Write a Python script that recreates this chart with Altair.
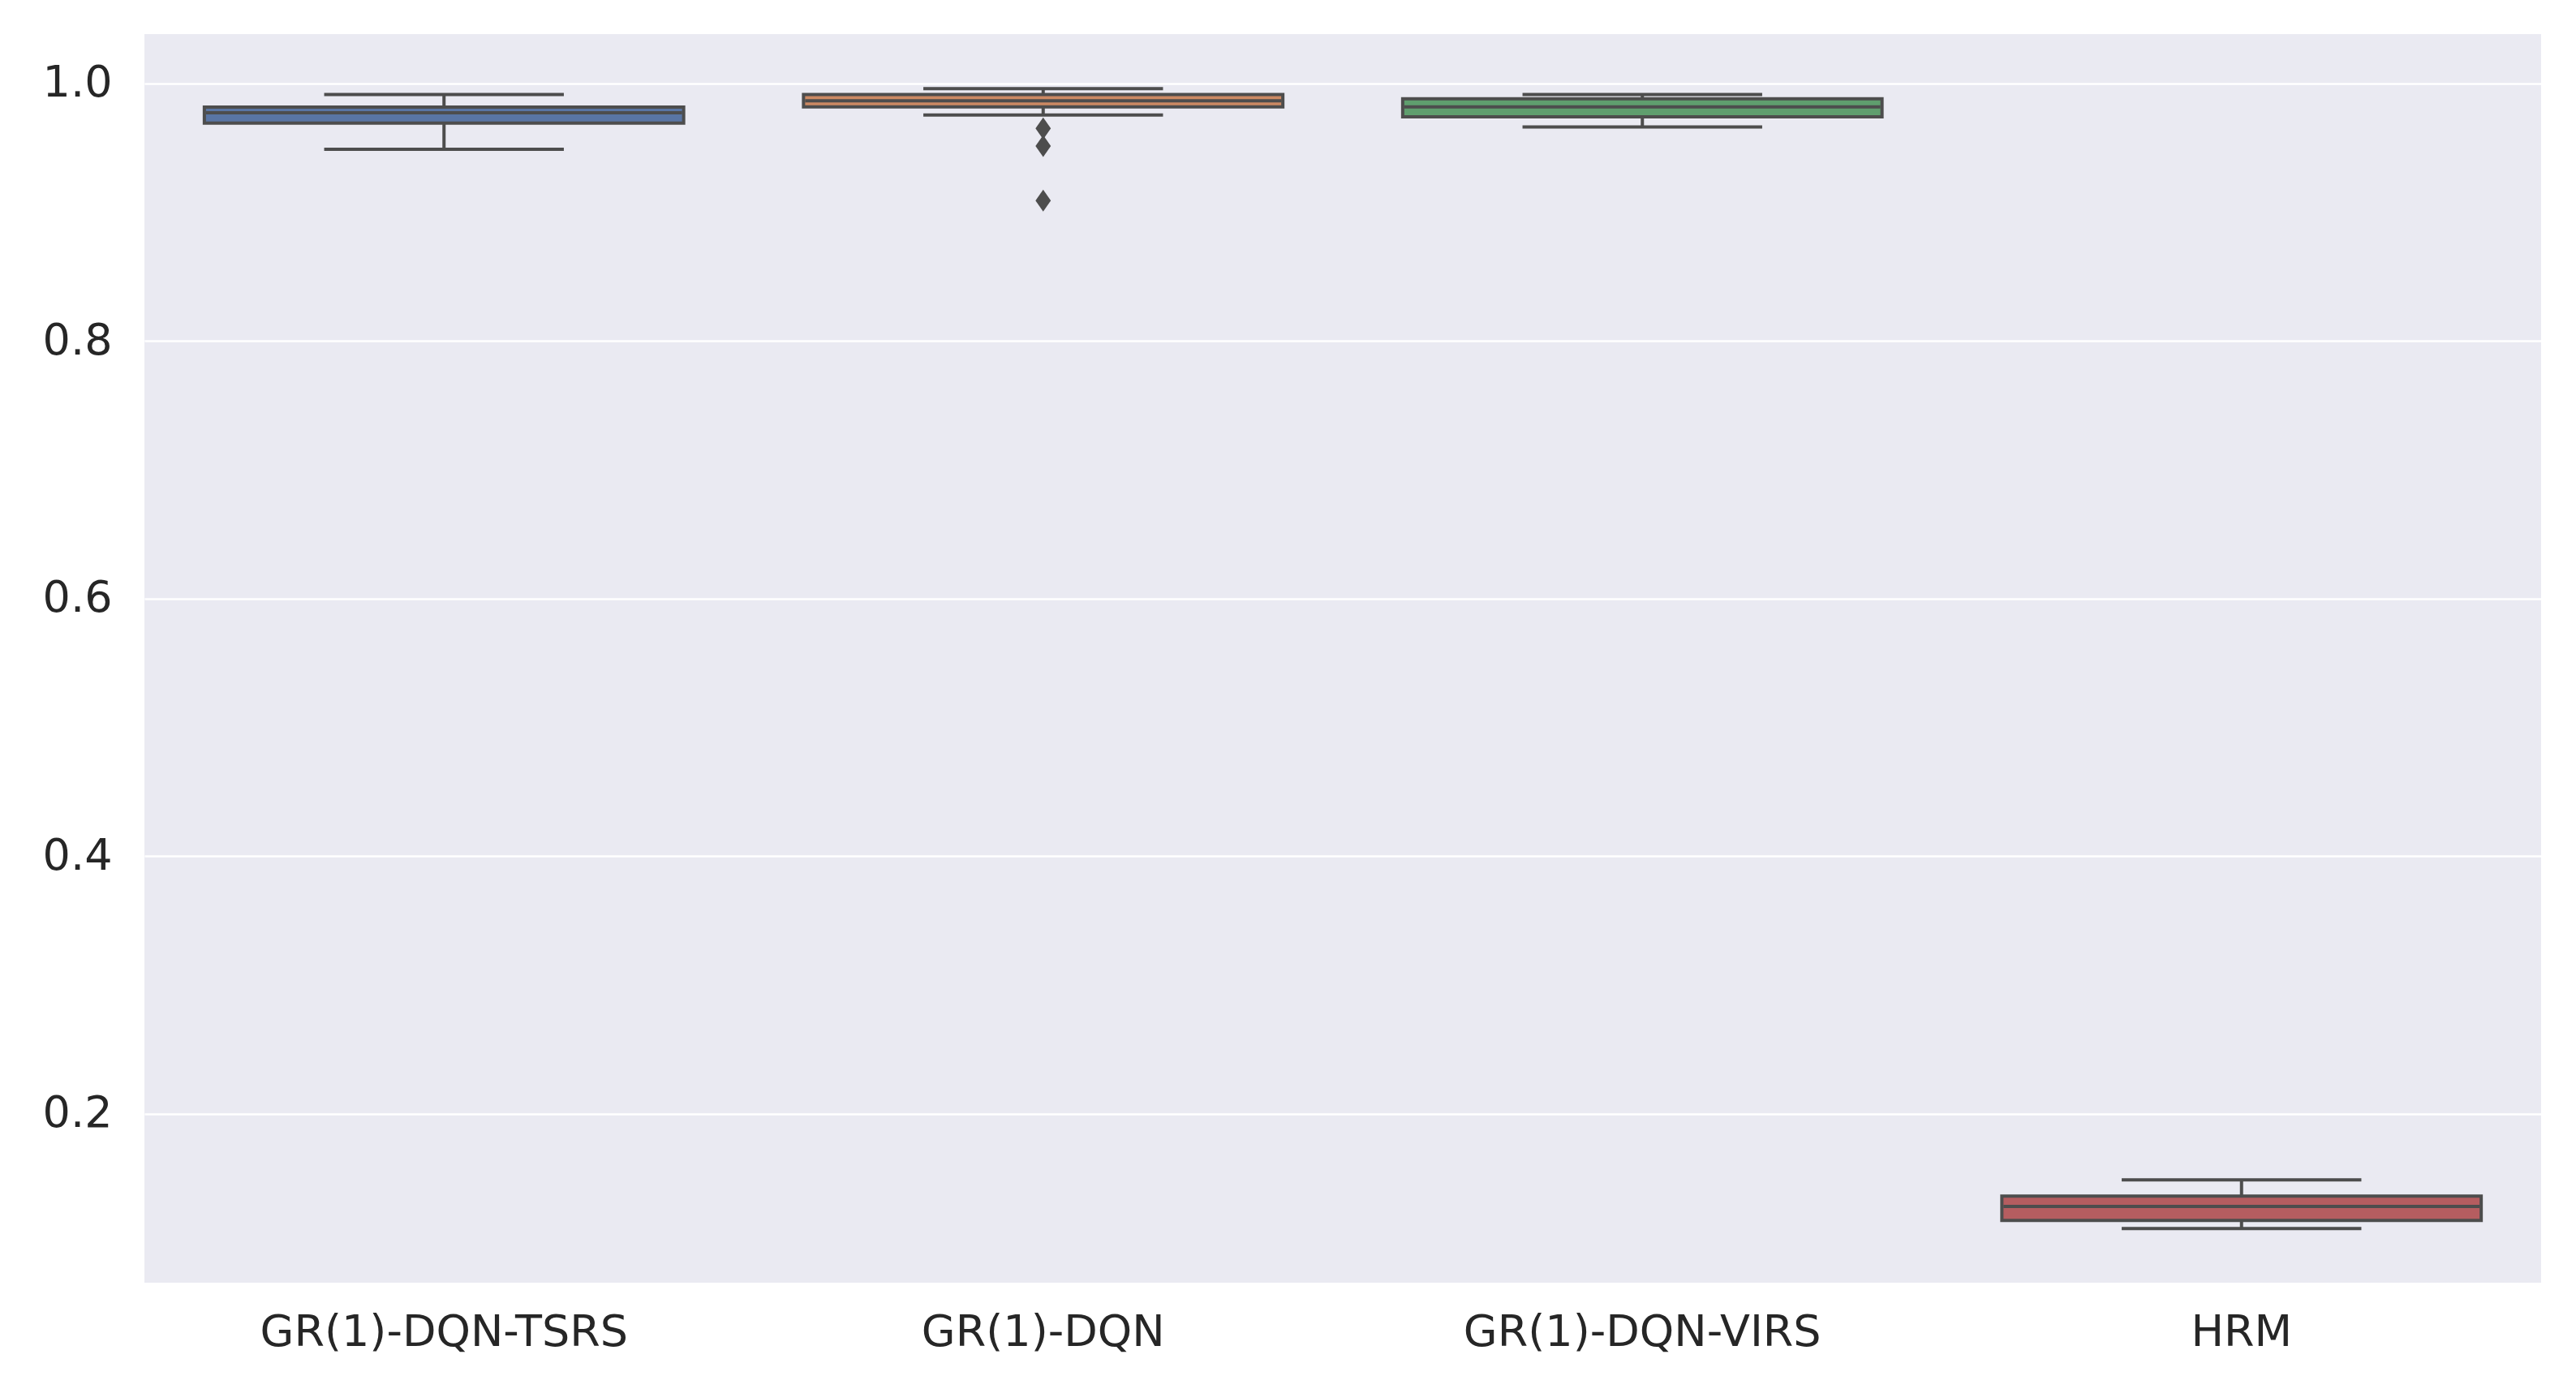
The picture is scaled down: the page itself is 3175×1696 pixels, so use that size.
import altair as alt
import pandas as pd

categories = ["GR(1)-DQN-TSRS", "GR(1)-DQN", "GR(1)-DQN-VIRS", "HRM"]
whisker_low = [0.9490, 0.9756, 0.9662, 0.1107]
q1 = [0.9693, 0.9819, 0.9742, 0.1170]
median = [0.9773, 0.9866, 0.9819, 0.1279]
q3 = [0.9817, 0.9915, 0.9882, 0.1359]
whisker_high = [0.9914, 0.9960, 0.9914, 0.1485]
box_colors = ["#5975a4", "#cc8963", "#5f9e6e", "#b55d60"]

outlier_cats = ["GR(1)-DQN", "GR(1)-DQN", "GR(1)-DQN"]
outlier_vals = [0.9652, 0.9515, 0.9091]

y_ticks = [0.2, 0.4, 0.6, 0.8, 1.0]

stats = pd.DataFrame({
    "cat": categories,
    "lo": whisker_low,
    "q1": q1,
    "med": median,
    "q3": q3,
    "hi": whisker_high,
})
outliers = pd.DataFrame({"cat": outlier_cats, "val": outlier_vals})

EDGE = "#4d4d4d"
BAND = 2954 / 4

xenc = alt.X("cat:N", sort=categories, title=None,
             scale=alt.Scale(paddingInner=0, paddingOuter=0),
             axis=alt.Axis(labelAngle=0, grid=False, labelLimit=0))
yscale = alt.Scale(domain=[0.0687, 1.0384], nice=False, zero=False)
yaxis = alt.Axis(values=y_ticks, format=".1f", grid=True)

base = alt.Chart(stats)

whisk_lo = base.mark_rule(color=EDGE, strokeWidth=4).encode(
    x=xenc, y=alt.Y("lo:Q", scale=yscale, axis=yaxis, title=None), y2="q1:Q")
whisk_hi = base.mark_rule(color=EDGE, strokeWidth=4).encode(
    x=xenc, y=alt.Y("q3:Q"), y2="hi:Q")
cap_lo = base.mark_tick(color=EDGE, size=BAND * 0.4, thickness=4, opacity=1).encode(
    x=xenc, y="lo:Q")
cap_hi = base.mark_tick(color=EDGE, size=BAND * 0.4, thickness=4, opacity=1).encode(
    x=xenc, y="hi:Q")
box = base.mark_bar(size=BAND * 0.8, stroke=EDGE, strokeWidth=4, opacity=1).encode(
    x=xenc, y="q1:Q", y2="q3:Q",
    color=alt.Color("cat:N", scale=alt.Scale(domain=categories, range=box_colors), legend=None))
med = base.mark_tick(color=EDGE, size=BAND * 0.8 - 4, thickness=4, opacity=1).encode(
    x=xenc, y="med:Q")
outl = alt.Chart(outliers).mark_point(
    shape="M0,-1L0.7,0L0,1L-0.7,0Z", filled=True, color=EDGE, size=729, opacity=1
).encode(x=xenc, y="val:Q")

chart = alt.layer(whisk_lo, whisk_hi, cap_lo, cap_hi, box, med, outl).properties(
    width=2954, height=1539,
    autosize=alt.AutoSizeParams(type="none"),
    padding={"left": 170, "top": 34, "right": 20, "bottom": 90},
).configure_view(
    fill="#eaeaf2", stroke=None
).configure_axis(
    domain=False, ticks=False, tickSize=0,
    labelFont="DejaVu Sans", labelFontSize=54, labelColor="#262626",
    gridColor="#ffffff", gridWidth=2.7,
).configure_axisY(
    labelPadding=40
).configure_axisX(
    labelPadding=34, labelLimit=0
)

chart.save("out.html", embed_options={"renderer": "svg", "actions": False})
